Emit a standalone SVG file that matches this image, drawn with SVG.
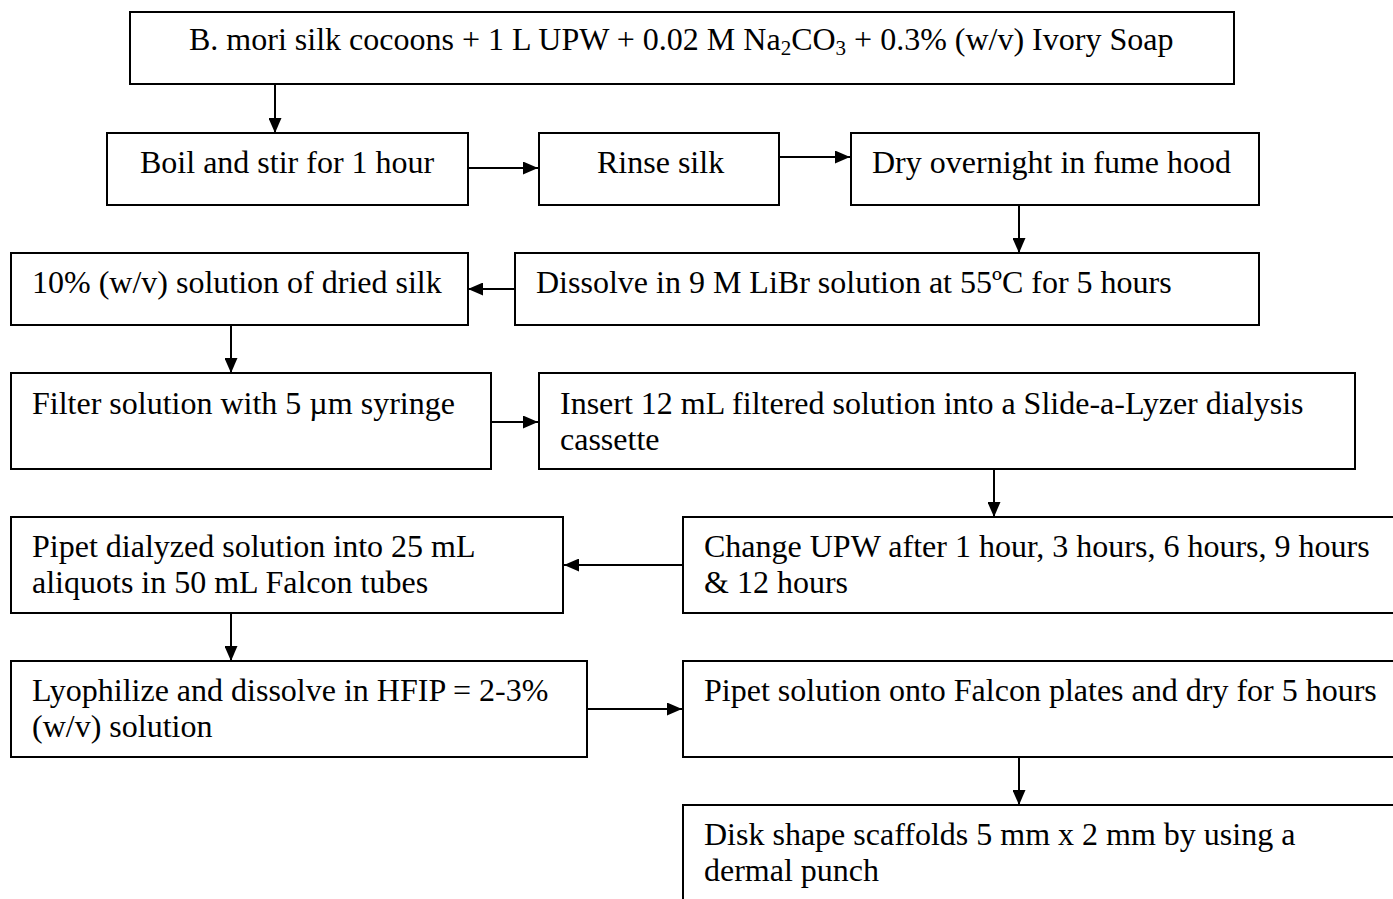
<svg xmlns="http://www.w3.org/2000/svg" width="1393" height="899" viewBox="0 0 1393 899">
<defs>
<marker id="arr" viewBox="0 0 15 13" refX="15" refY="6.5" markerWidth="15" markerHeight="13" markerUnits="userSpaceOnUse" orient="auto">
<path d="M0,0 L15,6.5 L0,13 Z" fill="#000"/>
</marker>
<style>
.box{fill:#fff;stroke:#000;stroke-width:2}
.t{font-family:"Liberation Serif","Times New Roman",serif;font-size:32px;fill:#000}
.sub{font-size:21px}
.c{fill:none;stroke:#000;stroke-width:2;marker-end:url(#arr)}
</style>
</defs>
<rect width="1393" height="899" fill="#fff"/>
<g id="n1"><rect class="box" x="130" y="12" width="1104" height="72"/>
<text class="t" x="189" y="50">B. mori silk cocoons + 1 L UPW + 0.02 M Na<tspan class="sub" dy="5">2</tspan><tspan dy="-5">CO</tspan><tspan class="sub" dy="5">3</tspan><tspan dy="-5"> + 0.3% (w/v) Ivory Soap</tspan></text></g>
<g id="n2"><rect class="box" x="107" y="133" width="361" height="72"/><text class="t" x="140" y="173">Boil and stir for 1 hour</text></g>
<g id="n3"><rect class="box" x="539" y="133" width="240" height="72"/><text class="t" x="597" y="173">Rinse silk</text></g>
<g id="n4"><rect class="box" x="851" y="133" width="408" height="72"/><text class="t" x="872" y="173">Dry overnight in fume hood</text></g>
<g id="n5"><rect class="box" x="515" y="253" width="744" height="72"/><text class="t" x="536" y="293">Dissolve in 9 M LiBr solution at 55ºC for 5 hours</text></g>
<g id="n6"><rect class="box" x="11" y="253" width="457" height="72"/><text class="t" x="32" y="293">10% (w/v) solution of dried silk</text></g>
<g id="n7"><rect class="box" x="11" y="373" width="480" height="96"/><text class="t" x="32" y="414">Filter solution with 5 µm syringe</text></g>
<g id="n8"><rect class="box" x="539" y="373" width="816" height="96"/><text class="t" x="560" y="414">Insert 12 mL filtered solution into a Slide-a-Lyzer dialysis</text><text class="t" x="560" y="450">cassette</text></g>
<g id="n9"><rect class="box" x="683" y="517" width="730" height="96"/><text class="t" x="704" y="557">Change UPW after 1 hour, 3 hours, 6 hours, 9 hours</text><text class="t" x="704" y="593">&amp; 12 hours</text></g>
<g id="n10"><rect class="box" x="11" y="517" width="552" height="96"/><text class="t" x="32" y="557">Pipet dialyzed solution into 25 mL</text><text class="t" x="32" y="593">aliquots in 50 mL Falcon tubes</text></g>
<g id="n11"><rect class="box" x="11" y="661" width="576" height="96"/><text class="t" x="32" y="701">Lyophilize and dissolve in HFIP = 2-3%</text><text class="t" x="32" y="737">(w/v) solution</text></g>
<g id="n12"><rect class="box" x="683" y="661" width="730" height="96"/><text class="t" x="704" y="701">Pipet solution onto Falcon plates and dry for 5 hours</text></g>
<g id="n13"><rect class="box" x="683" y="805" width="730" height="120"/><text class="t" x="704" y="845">Disk shape scaffolds 5 mm x 2 mm by using a</text><text class="t" x="704" y="881">dermal punch</text></g>
<g id="connectors">
<path class="c" d="M275,84 V133"/>
<path class="c" d="M468,168 H538"/>
<path class="c" d="M779,157 H850"/>
<path class="c" d="M1019,205 V253"/>
<path class="c" d="M515,289 H468"/>
<path class="c" d="M231,325 V373"/>
<path class="c" d="M491,422 H538"/>
<path class="c" d="M994,469 V517"/>
<path class="c" d="M683,565 H564"/>
<path class="c" d="M231,613 V661"/>
<path class="c" d="M587,709 H682"/>
<path class="c" d="M1019,757 V805"/>
</g>
</svg>
